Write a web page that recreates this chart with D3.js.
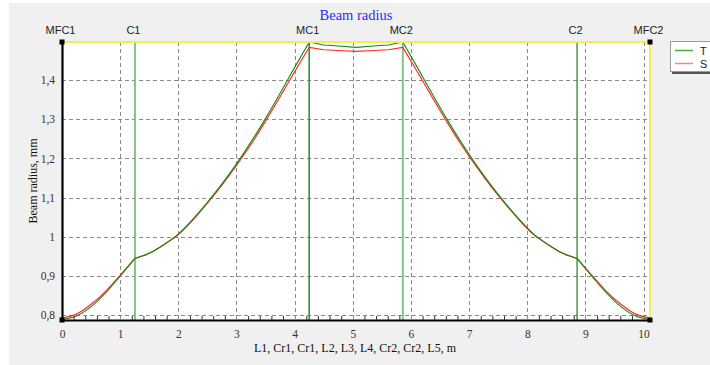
<!DOCTYPE html>
<html><head><meta charset="utf-8">
<script src="https://cdn.jsdelivr.net/npm/d3@7"></script>
<style>body{margin:0;background:#fff} svg{display:block}</style>
</head><body><svg id="c" width="710" height="365"></svg>
<script>
// ---- data ----
const positions = [0, 0.25, 0.5, 0.75, 1.0, 1.254, 1.5, 1.75, 2.0, 2.25, 2.5, 2.75, 3.0, 3.25, 3.5, 3.75, 4.0, 4.25, 4.5, 4.75, 5.055, 5.36, 5.61, 5.86, 6.11, 6.36, 6.61, 6.86, 7.11, 7.36, 7.61, 7.86, 8.11, 8.36, 8.61, 8.856, 9.11, 9.36, 9.61, 9.86, 10.11];
const beamT = [0.789, 0.798, 0.822, 0.857, 0.900, 0.945, 0.958, 0.980, 1.007, 1.045, 1.088, 1.135, 1.186, 1.242, 1.302, 1.366, 1.432, 1.4965, 1.489, 1.4865, 1.483, 1.4865, 1.489, 1.4965, 1.432, 1.366, 1.302, 1.242, 1.186, 1.135, 1.088, 1.045, 1.007, 0.980, 0.958, 0.945, 0.900, 0.857, 0.822, 0.798, 0.789];
const beamS = [0.793, 0.803, 0.828, 0.861, 0.902, 0.945, 0.958, 0.980, 1.006, 1.043, 1.086, 1.132, 1.182, 1.236, 1.295, 1.357, 1.421, 1.483, 1.477, 1.475, 1.473, 1.475, 1.477, 1.483, 1.421, 1.357, 1.295, 1.236, 1.182, 1.132, 1.086, 1.043, 1.006, 0.980, 0.958, 0.945, 0.902, 0.861, 0.828, 0.803, 0.793];
const elementNames = ["MFC1", "C1", "MC1", "MC2", "C2", "MFC2"];
const elementPos = [0, 1.254, 4.25, 5.86, 8.856, 10.11];
const xTicks = [0, 1, 2, 3, 4, 5, 6, 7, 8, 9, 10];
const yTicks = [0.8, 0.9, 1.0, 1.1, 1.2, 1.3, 1.4];
const seriesNames = ["T", "S"];
const xDomain = [0, 10.11];
const yDomain = [0.788, 1.4967];

// ---- drawing ----
const svg = d3.select("#c");
const L = 62, R = 650, T = 42, B = 320;
const x = d3.scaleLinear().domain(xDomain).range([L, R]);
const y = d3.scaleLinear().domain(yDomain).range([B, T]);

svg.append("rect").attr("x", 9).attr("y", 3).attr("width", 701).attr("height", 362).attr("fill", "#f0f0f0");
svg.append("rect").attr("x", L).attr("y", T).attr("width", R - L).attr("height", B - T).attr("fill", "#fff");

// grid
const grid = svg.append("g").attr("stroke", "#8a8a8a").attr("stroke-width", 1).attr("stroke-dasharray", "4,3");
grid.selectAll(".gx").data(xTicks.filter(d => d > 0)).join("line")
  .attr("x1", d => Math.round(x(d)) + 0.5).attr("x2", d => Math.round(x(d)) + 0.5)
  .attr("y1", T).attr("y2", B);
grid.selectAll(".gy").data(yTicks).join("line")
  .attr("y1", d => Math.round(y(d)) + 0.5).attr("y2", d => Math.round(y(d)) + 0.5)
  .attr("x1", L).attr("x2", R);

// element vertical lines
const elStyle = [
  null,
  {c: "#82c482", w: 2},
  {c: "#2a8a2a", w: 1.5},
  {c: "#82c482", w: 2},
  {c: "#1e7a1e", w: 1.2},
  null
];
elementPos.forEach((p, i) => {
  if (!elStyle[i]) return;
  svg.append("line").attr("x1", x(p)).attr("x2", x(p)).attr("y1", T).attr("y2", B)
    .attr("stroke", elStyle[i].c).attr("stroke-width", elStyle[i].w);
});

// curves: smooth within each element-to-element segment, kinks at elements
function segments(vals) {
  const segs = [];
  for (let k = 0; k < elementPos.length - 1; k++) {
    const pts = [];
    positions.forEach((p, i) => {
      if (p >= elementPos[k] - 1e-6 && p <= elementPos[k + 1] + 1e-6) pts.push([p, vals[i]]);
    });
    segs.push(pts);
  }
  return segs;
}
const line = d3.line().x(d => x(d[0])).y(d => y(d[1])).curve(d3.curveMonotoneX);
const lineLin = d3.line().x(d => x(d[0])).y(d => y(d[1]));
function drawSeries(vals, color, w) {
  segments(vals).forEach((seg, k) => {
    const isFlat = k === 2; // between MC1 and MC2: piecewise linear
    svg.append("path").datum(seg).attr("d", isFlat ? lineLin : line)
      .attr("fill", "none").attr("stroke", color).attr("stroke-width", w);
  });
}
drawSeries(beamS, "#ff2a2a", 1.2);
drawSeries(beamT, "#108c10", 1.1);

// top & right border (yellow)
svg.append("line").attr("x1", L).attr("x2", R + 1).attr("y1", T).attr("y2", T).attr("stroke", "#f2ee5a").attr("stroke-width", 2);
svg.append("line").attr("x1", R).attr("x2", R).attr("y1", T).attr("y2", B).attr("stroke", "#f2ee5a").attr("stroke-width", 2);

// axes
const fmt = d => String(+d.toFixed(1)).replace(".", ",");
const xAxis = svg.append("g").attr("transform", `translate(0,${B})`)
  .call(d3.axisBottom(x).tickValues(xTicks).tickSize(0).tickPadding(10).tickSizeOuter(0).tickFormat(d => d));
xAxis.select(".domain").attr("stroke", "#000").attr("stroke-width", 2.2);
xAxis.selectAll("text").attr("font-family", "Liberation Serif, serif").attr("font-size", 11.5).attr("fill", "#333");

const minor = d3.range(0, 10.11, 0.2).filter(v => Math.abs(v - Math.round(v)) > 0.01);
svg.append("g").attr("transform", `translate(0,${B})`)
  .call(d3.axisBottom(x).tickValues(minor).tickSize(-4).tickFormat(""))
  .call(g => g.select(".domain").remove())
  .selectAll("line").attr("stroke", "#333");

const yAxis = svg.append("g").attr("transform", `translate(${L},0)`)
  .call(d3.axisLeft(y).tickValues(yTicks).tickSize(0).tickPadding(7).tickSizeOuter(0).tickFormat(fmt));
yAxis.select(".domain").attr("stroke", "#000").attr("stroke-width", 2.2);
yAxis.selectAll("text").attr("font-family", "Liberation Serif, serif").attr("font-size", 11.5).attr("fill", "#333");

// corner squares
[[xDomain[0], yDomain[0]], [xDomain[0], yDomain[1]], [xDomain[1], yDomain[0]], [xDomain[1], yDomain[1]]].forEach(([a, b]) => {
  svg.append("rect").attr("x", x(a) - 2.5).attr("y", y(b) - 2.5).attr("width", 5).attr("height", 5).attr("fill", "#000");
});

// element labels
svg.append("g").selectAll("text").data(elementNames).join("text")
  .attr("x", (d, i) => x(elementPos[i]) - 1.5).attr("y", 34)
  .attr("text-anchor", "middle").attr("font-family", "Liberation Sans, Arial, sans-serif")
  .attr("font-size", 11).attr("fill", "#222").text(d => d);

// title
svg.append("text").attr("x", 356).attr("y", 20).attr("text-anchor", "middle")
  .attr("font-family", "Liberation Serif, serif").attr("font-size", 14.5).attr("fill", "#2b2bff").text("Beam radius");

// axis titles
svg.append("text").attr("x", 355).attr("y", 352).attr("text-anchor", "middle")
  .attr("font-family", "Liberation Serif, serif").attr("font-size", 12).attr("fill", "#111")
  .text("L1, Cr1, Cr1, L2, L3, L4, Cr2, Cr2, L5, m");
svg.append("text").attr("transform", "translate(37,181) rotate(-90)").attr("text-anchor", "middle")
  .attr("font-family", "Liberation Serif, serif").attr("font-size", 12).attr("fill", "#111")
  .text("Beam radius, mm");

// legend
const lg = svg.append("g");
lg.append("rect").attr("x", 672).attr("y", 44).attr("width", 44).attr("height", 30).attr("fill", "#555");
lg.append("rect").attr("x", 670.5).attr("y", 41.5).attr("width", 44).attr("height", 30).attr("fill", "#fff").attr("stroke", "#9a9a9a");
const legColors = ["#3cae3c", "#ff8080"];
seriesNames.forEach((n, i) => {
  const yy = 50.5 + i * 13;
  lg.append("line").attr("x1", 675).attr("x2", 693).attr("y1", yy).attr("y2", yy).attr("stroke", legColors[i]).attr("stroke-width", 1.5);
  lg.append("text").attr("x", 700).attr("y", yy + 4).attr("font-family", "Liberation Sans, Arial, sans-serif")
    .attr("font-size", 11).attr("fill", "#222").text(n);
});
</script>
</body></html>
